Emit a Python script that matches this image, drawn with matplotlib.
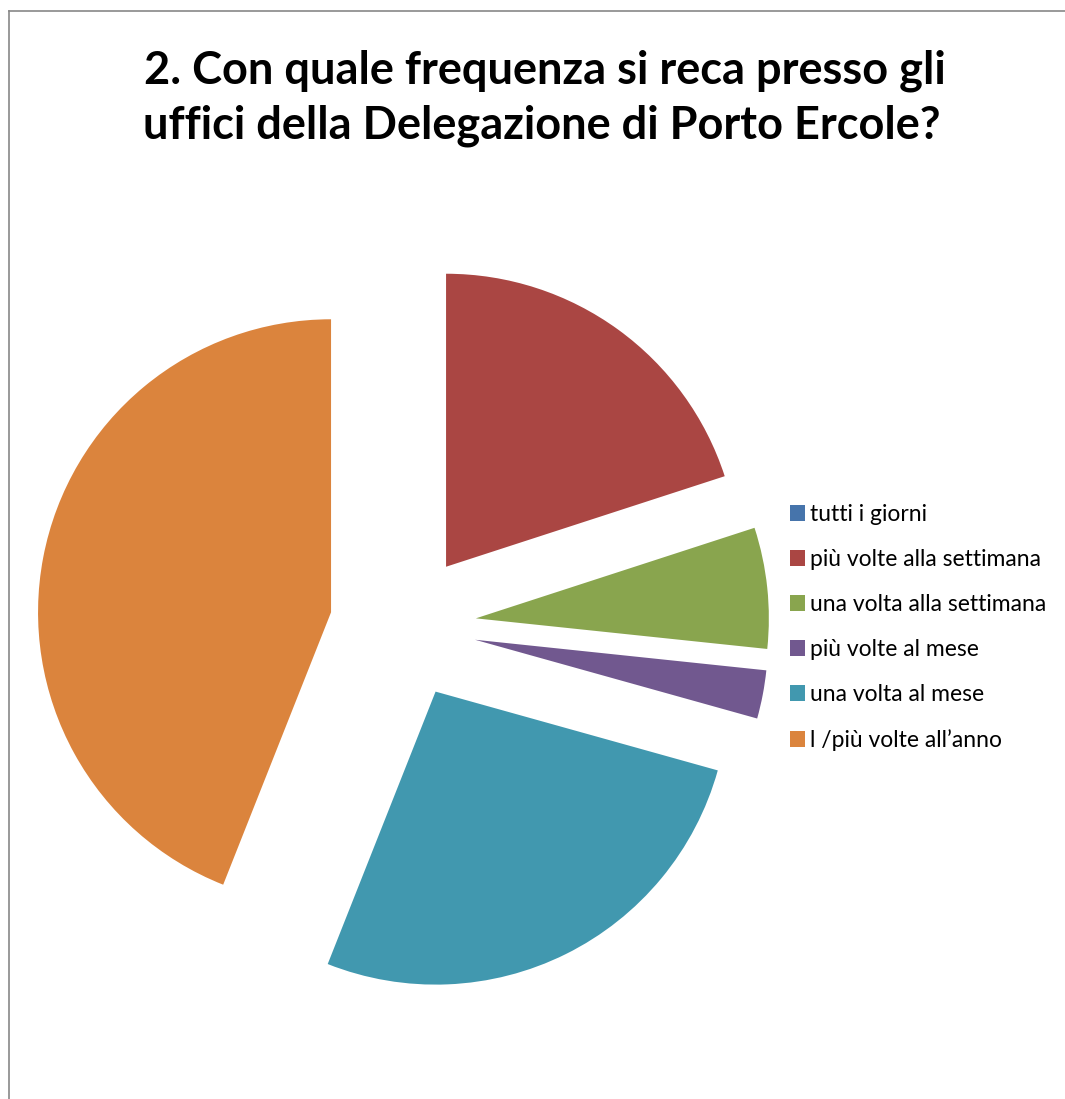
import matplotlib
matplotlib.use('Agg')
import matplotlib.pyplot as plt
from matplotlib.lines import Line2D

# Domanda 2: frequenza di visita agli uffici della Delegazione
categorie = ['tutti i giorni', 'più volte alla settimana', 'una volta alla settimana',
             'più volte al mese', 'una volta al mese', 'l /più volte all\u2019anno']
risposte = [0, 15, 5, 2, 20, 33]
colori = ['#4674AB', '#AA4643', '#89A54E', '#71588F', '#4198AF', '#DB843D']

titolo_1 = '2. Con quale frequenza si reca presso gli'
titolo_2 = 'uffici della Delegazione di Porto Ercole?'

W, H = 1065, 1099
fig = plt.figure(figsize=(W / 100, H / 100), dpi=100)

# assi su tutta la figura: 1 unità = raggio della torta in pixel
r_px = 293
cx, cy = 403, 626
ax = fig.add_axes([0, 0, 1, 1])
fette, _ = ax.pie(risposte, colors=colori, startangle=90, counterclock=False,
                  explode=[0.25] * len(risposte), wedgeprops=dict(linewidth=0))
ax.set_aspect('auto')
ax.set_xlim(-cx / r_px, (W - cx) / r_px)
ax.set_ylim(-(H - cy) / r_px, cy / r_px)
ax.axis('off')

# titolo su due righe
fig.text(545 / W, 1 - 84 / H, titolo_1, ha='center', va='baseline',
         fontsize=32.5, fontweight='bold', family='Lato')
fig.text(542 / W, 1 - 138 / H, titolo_2, ha='center', va='baseline',
         fontsize=32.5, fontweight='bold', family='Lato')

# legenda a destra
fig.legend(fette, categorie, loc='upper left', bbox_to_anchor=(790 / W, 1 - 504 / H),
           frameon=False, prop=dict(family='Lato', size=16.5),
           handlelength=0.66, handleheight=0.66, handletextpad=0.2,
           labelspacing=1.05, borderpad=0, borderaxespad=0)

# cornice grigia (solo lato sinistro e superiore)
fig.add_artist(Line2D([9 / W, 9 / W], [0, 1 - 11 / H], transform=fig.transFigure,
                      color='#878787', lw=1.2))
fig.add_artist(Line2D([9 / W, 1], [1 - 11 / H, 1 - 11 / H], transform=fig.transFigure,
                      color='#878787', lw=1.2))

fig.savefig('out.png', dpi=100)
